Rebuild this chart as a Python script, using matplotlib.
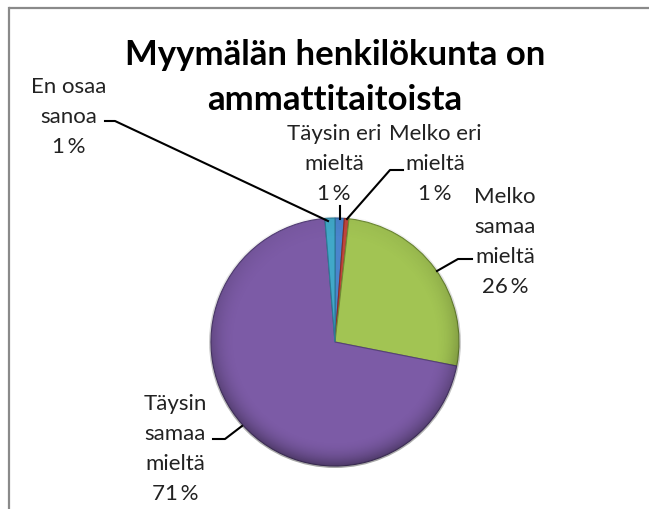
import numpy as np
import matplotlib
matplotlib.use("Agg")
import matplotlib.pyplot as plt
from matplotlib.patches import Circle

# data (slice order clockwise from 12 o'clock)
categories = ["Täysin eri\nmieltä", "Melko eri\nmieltä", "Melko\nsamaa\nmieltä",
              "Täysin\nsamaa\nmieltä", "En osaa\nsanoa"]
shares = [1.2, 0.6, 26.3, 70.6, 1.3]        # slice sizes as drawn
shown_pct = [1, 1, 26, 71, 1]               # percentages printed on the labels
colors = ["#4a84cc", "#c0453c", "#a2c453", "#7c5ba6", "#41a8c8"]
edges = ["#2f5f99", "#8c2c26", "#6f8c35", "#56407a", "#2b7c96"]

title_lines = ["Myymälän henkilökunta on", "ammattitaitoista"]

W, H = 649, 510
plt.rcParams['font.family'] = ['Lato', 'DejaVu Sans']


def Y(y):
    # picture rows -> axes units (origin bottom-left)
    return H - y


fig = plt.figure(figsize=(W / 100, H / 100), dpi=100)
ax = fig.add_axes([0, 0, 1, 1])

cx, cy, R = 335, Y(343), 124
wedges, _ = ax.pie(shares, colors=colors, startangle=90, counterclock=False,
                   center=(cx, cy), radius=R, explode=[0, 0, 0, 0.03, 0],
                   wedgeprops=dict(linewidth=0.8))
for w, ec in zip(wedges, edges):
    w.set_edgecolor(ec)

# soft bevel shading over the pie (darker rim at the bottom, light at top)
gx, gy = np.meshgrid(np.linspace(-1.1, 1.1, 300), np.linspace(-1.1, 1.1, 300))
rr = np.hypot(gx, gy)
rim = np.clip((rr - 0.80) / 0.20, 0, 1) ** 2
shade = np.zeros(gx.shape + (4,))
dark = rim * (0.55 - 0.45 * gy) * 0.35
shade[..., 3] = dark
img = ax.imshow(shade, extent=(cx - 1.1 * R, cx + 1.1 * R, cy - 1.1 * R, cy + 1.1 * R),
                origin='lower', interpolation='bilinear', zorder=3)
img.set_clip_path(Circle((cx, cy), R + 2, transform=ax.transData))

# chart area border (runs out of the picture on the right and bottom)
ax.plot([9, 9], [Y(H), Y(9)], color="#8a8a8a", lw=1.6, solid_capstyle='projecting')
ax.plot([9, W], [Y(9), Y(9)], color="#8a8a8a", lw=1.6, solid_capstyle='butt')

# title
for i, line in enumerate(title_lines):
    ax.text(335, Y(65 + 45 * i), line, ha='center', va='baseline',
            fontsize=25, fontweight='bold', color='black')

# labels: centre x, first baseline
label_pos = [(334, 140), (435, 140), (505, 203), (175, 410), (69, 93)]
step = 30
for name, pct, (lx, by) in zip(categories, shown_pct, label_pos):
    lines = name.split("\n") + [f"{pct}\u2009%"]
    for k, line in enumerate(lines):
        ax.text(lx, Y(by + step * k), line, ha='center', va='baseline',
                fontsize=16, color='#222222')

# leader lines
leaders = [
    [(340, 207), (340, 220)],
    [(347, 220), (390, 171), (403, 171)],
    [(437, 272), (458, 260), (472, 260)],
    [(242, 427), (225, 440), (213, 440)],
    [(328, 222), (115, 122), (105, 122)],
]
for pts in leaders:
    ax.plot([p[0] for p in pts], [Y(p[1]) for p in pts], color='black', lw=1.5,
            zorder=4)

ax.set_xlim(0, W)
ax.set_ylim(0, H)
ax.set_aspect('equal')
ax.axis('off')

fig.savefig("out.png", dpi=100, facecolor='white')
